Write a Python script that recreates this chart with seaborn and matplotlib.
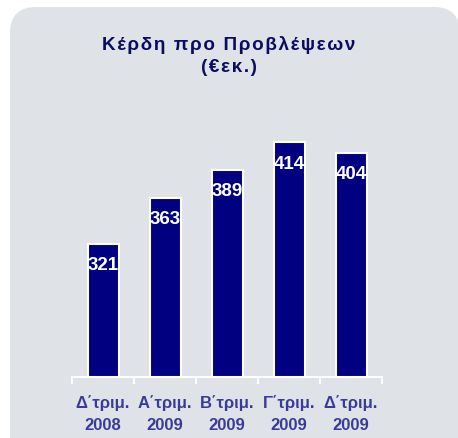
import matplotlib
matplotlib.use("Agg")
import matplotlib.pyplot as plt
import seaborn as sns
import pandas as pd
from matplotlib.patches import FancyBboxPatch

categories = ["Δ΄τριμ.\n2008", "Α΄τριμ.\n2009", "Β΄τριμ.\n2009", "Γ΄τριμ.\n2009", "Δ΄τριμ.\n2009"]
values = [321, 363, 389, 414, 404]
title_lines = ["Κέρδη προ Προβλέψεων", "(€εκ.)"]

sns.set_theme(style="white")
plt.rcParams['font.family'] = ['Liberation Sans', 'DejaVu Sans']


def spaced(s, sep="\u200a"):
    return sep.join(s)


fig = plt.figure(figsize=(4.58, 4.39), dpi=100)
fig.patch.set_facecolor("white")
panel = FancyBboxPatch((0.10, -0.3), 4.60 - 0.10, 4.31 + 0.3,
                       boxstyle="round,pad=0,rounding_size=0.26",
                       transform=fig.dpi_scale_trans, facecolor="#dfe3e8", edgecolor="none",
                       zorder=-5)
fig.patches.append(panel)

ax = fig.add_axes([72 / 458, 1 - 378 / 439, 310 / 458, 274 / 439])
ax.set_facecolor("none")
ax.set_zorder(2)

df = pd.DataFrame({"cat": categories, "val": values})
sns.barplot(data=df, x="cat", y="val", color="#000080", saturation=1, width=0.5,
            edgecolor="white", linewidth=1.5, ax=ax)

ax.set_ylim(200, 450)
ax.set_xlim(-0.5, len(categories) - 0.5)
for s in ["top", "left", "right"]:
    ax.spines[s].set_visible(False)
ax.spines["bottom"].set_color("white")
ax.spines["bottom"].set_linewidth(1.5)
ax.set_yticks([])
ax.set_xlabel("")
ax.set_ylabel("")

ax.set_xticks([i - 0.5 for i in range(len(categories) + 1)])
ax.set_xticklabels([])
ax.tick_params(axis="x", which="major", length=5, width=1.5, color="white", direction="out", bottom=True)
ax.set_xticks(range(len(categories)), minor=True)
ax.set_xticklabels(categories, minor=True, fontsize=12, fontweight="bold", color="#3a3a98",
                   linespacing=1.6)
ax.tick_params(axis="x", which="minor", length=0, pad=12)

for i, v in enumerate(values):
    ax.annotate(str(v), (i, v), xytext=(0, -14.8), textcoords="offset points",
                ha="center", va="center", color="white", fontsize=13.5, fontweight="bold")

fig.text(229 / 458, 1 - 45 / 439, spaced(title_lines[0]), ha="center", va="center", fontsize=13.6,
         fontweight="bold", color="#0b0b62")
fig.text(229 / 458, 1 - 67 / 439, spaced(title_lines[1]), ha="center", va="center", fontsize=13.6,
         fontweight="bold", color="#0b0b62")

fig.savefig("out.png", dpi=100)
